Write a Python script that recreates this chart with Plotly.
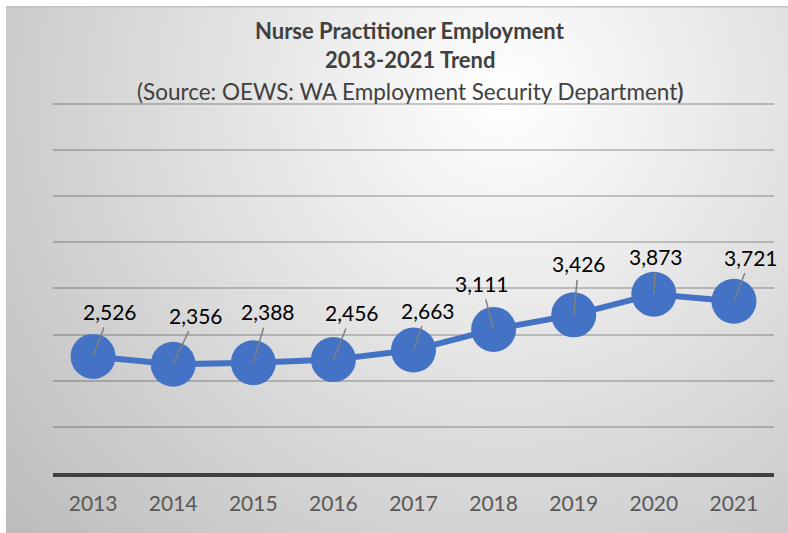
import base64
import plotly.graph_objects as go

# ---- data ----
years = ["2013", "2014", "2015", "2016", "2017", "2018", "2019", "2020", "2021"]
employment = [2526, 2356, 2388, 2456, 2663, 3111, 3426, 3873, 3721]
title_line1 = "Nurse Practitioner Employment"
title_line2 = "2013-2021 Trend"
title_line3 = "(Source: OEWS: WA Employment Security Department<b>)</b>"

# label offsets (pixels) of data labels relative to their points
label_dx = [17, 23, 15, 19, 14, -12, 5, 2, 17]
label_dy = [-45, -49, -51, -47, -40, -46, -51, -38, -44]

W, H = 788, 533
L, R, T, B = 53, 14, 100, 60
pw, ph = W - L - R, H - T - B

FONT = "Lato, Liberation Sans, sans-serif"
BLUE = "#4472C4"

# gradient background as svg
svg = (
    "<svg xmlns='http://www.w3.org/2000/svg' width='782' height='527' viewBox='0 0 782 527' "
    "preserveAspectRatio='none'><defs><radialGradient id='g' gradientUnits='userSpaceOnUse' "
    "cx='500' cy='90' r='660'><stop offset='0' stop-color='#ffffff'/>"
    "<stop offset='1' stop-color='#bcbcbc'/></radialGradient></defs>"
    "<rect width='782' height='527' fill='url(#g)'/>"
    "<rect x='0' y='0' width='782' height='1.5' fill='#c2c2c2'/></svg>"
)
src = "data:image/svg+xml;base64," + base64.b64encode(svg.encode()).decode()

fig = go.Figure()
fig.add_trace(go.Scatter(
    x=years, y=employment, mode="lines+markers",
    line=dict(color=BLUE, width=6),
    marker=dict(color=BLUE, size=45, line=dict(width=0)),
    hoverinfo="skip", showlegend=False,
))

for i, (v, dx, dy) in enumerate(zip(employment, label_dx, label_dy)):
    fig.add_annotation(
        x=i, y=v, xref="x", yref="y", text=f"{v:,}",
        showarrow=True, arrowhead=0, arrowwidth=1.5, arrowcolor="#7f7f7f",
        ax=dx, ay=dy, startstandoff=2,
        font=dict(family=FONT, size=21, color="#000000"),
    )

def py(pix):
    return 1 + (T - pix) / ph

cx = (410 - L) / pw
for txt, ypix, bold in [(title_line1, 30, True), (title_line2, 60, True), (title_line3, 91, False)]:
    fig.add_annotation(
        x=cx, y=py(ypix), xref="paper", yref="paper", showarrow=False,
        text=(f"<b>{txt}</b>" if bold else txt), xanchor="center", yanchor="middle",
        font=dict(family=FONT, size=22 if bold else 22.5, color="#404040"),
    )

fig.add_layout_image(dict(
    source=src, xref="paper", yref="paper",
    x=(6 - L) / pw, y=py(6), sizex=782 / pw, sizey=527 / ph,
    xanchor="left", yanchor="top", sizing="stretch", layer="below",
))

fig.update_layout(
    width=W, height=H,
    margin=dict(l=L, r=R, t=T, b=B),
    paper_bgcolor="white", plot_bgcolor="rgba(0,0,0,0)",
    xaxis=dict(
        type="category", range=[-0.5, len(years) - 0.5], autorange=False,
        showgrid=False, showline=True, linecolor="#404040", linewidth=4,
        ticks="", tickfont=dict(family=FONT, size=21, color="#595959"),
        ticklabelstandoff=9, zeroline=False,
    ),
    yaxis=dict(
        range=[0, 8080], dtick=1000, showgrid=True, gridcolor="rgba(0,0,0,0.2)", gridwidth=1.8,
        showticklabels=False, zeroline=False, showline=False, ticks="",
    ),
)

fig.write_html("out.html", config={"displayModeBar": False},
               post_script="document.body.style.margin='0';")
